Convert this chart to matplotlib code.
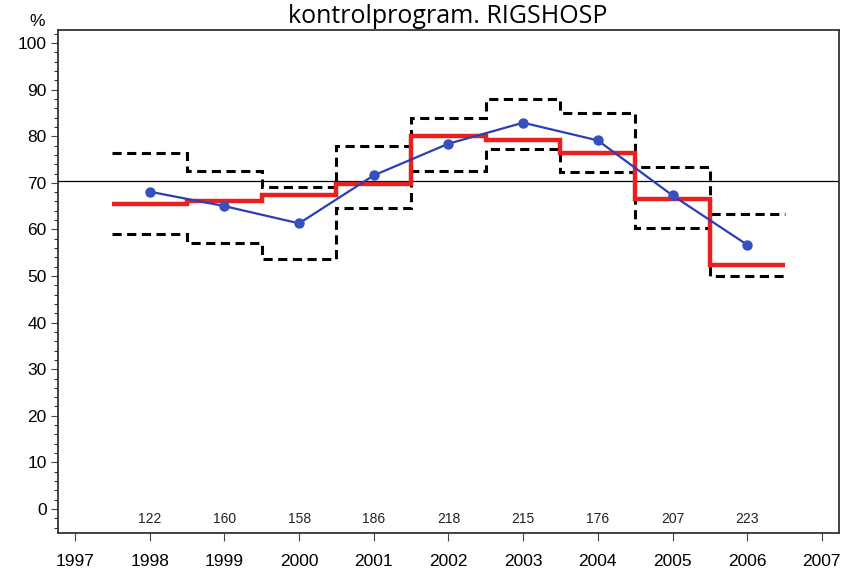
import numpy as np
import matplotlib
matplotlib.use("Agg")
import matplotlib.pyplot as plt
from matplotlib.ticker import MultipleLocator, AutoMinorLocator

# data
years = [1998, 1999, 2000, 2001, 2002, 2003, 2004, 2005, 2006]
observed = [68.1, 65.0, 61.3, 71.6, 78.4, 82.9, 79.1, 67.3, 56.7]
expected = [65.5, 66.2, 67.4, 69.8, 80.0, 79.1, 76.4, 66.5, 52.3]
upper = [76.5, 72.6, 69.0, 78.0, 84.0, 88.0, 84.9, 73.4, 63.3]
lower = [59.1, 57.0, 53.6, 64.5, 72.6, 77.3, 72.4, 60.4, 50.0]
n_patients = [122, 160, 158, 186, 218, 215, 176, 207, 223]
reference = 70.3
xticks = list(range(1997, 2008))

plt.rcParams['font.family'] = ['Liberation Sans', 'DejaVu Sans']

fig = plt.figure(figsize=(8.43, 5.70), dpi=100)
ax = fig.add_axes([0.0692, 0.0649, 0.9261, 0.8825])

edges = np.append(np.array(years) - 0.5, years[-1] + 0.5)

ax.axhline(reference, color='black', lw=0.9, zorder=1)
ax.stairs(upper, edges, baseline=None, color='black', lw=2.2, ls=(0, (3, 1.8)), zorder=2)
ax.stairs(lower, edges, baseline=None, color='black', lw=2.2, ls=(0, (3, 1.8)), zorder=2)
ax.stairs(expected, edges, baseline=None, color='#e8201f', lw=3.2, zorder=3)
ax.plot(years, observed, color='#2a3fb0', lw=1.6, marker='o', ms=6.5,
        markerfacecolor='#3550c0', markeredgecolor='#3550c0', zorder=4)

for yr, n in zip(years, n_patients):
    ax.text(yr, -2.1, str(n), ha='center', va='center', fontsize=10, color='#222222')

ax.set_xlim(1996.776, 2007.23)
ax.set_ylim(-5.15, 102.8)
ax.set_xticks(xticks)
ax.yaxis.set_major_locator(MultipleLocator(10))
ax.yaxis.set_minor_locator(AutoMinorLocator(5))
ax.tick_params(axis='both', direction='out', labelsize=12.5, color='#444444')
ax.tick_params(axis='y', which='major', length=5)
ax.tick_params(axis='y', which='minor', length=3)
ax.tick_params(axis='x', length=6, pad=9)
for s in ax.spines.values():
    s.set_linewidth(1.3)
    s.set_color('#333333')

fig.text(0.044, 0.963, '%', fontsize=12.5, ha='center', va='center')
fig.text(0.531, 0.96, 'kontrolprogram. RIGSHOSP', fontsize=18, ha='center',
         va='baseline', family=['Open Sans', 'DejaVu Sans'])

fig.savefig('out.png', dpi=100)
